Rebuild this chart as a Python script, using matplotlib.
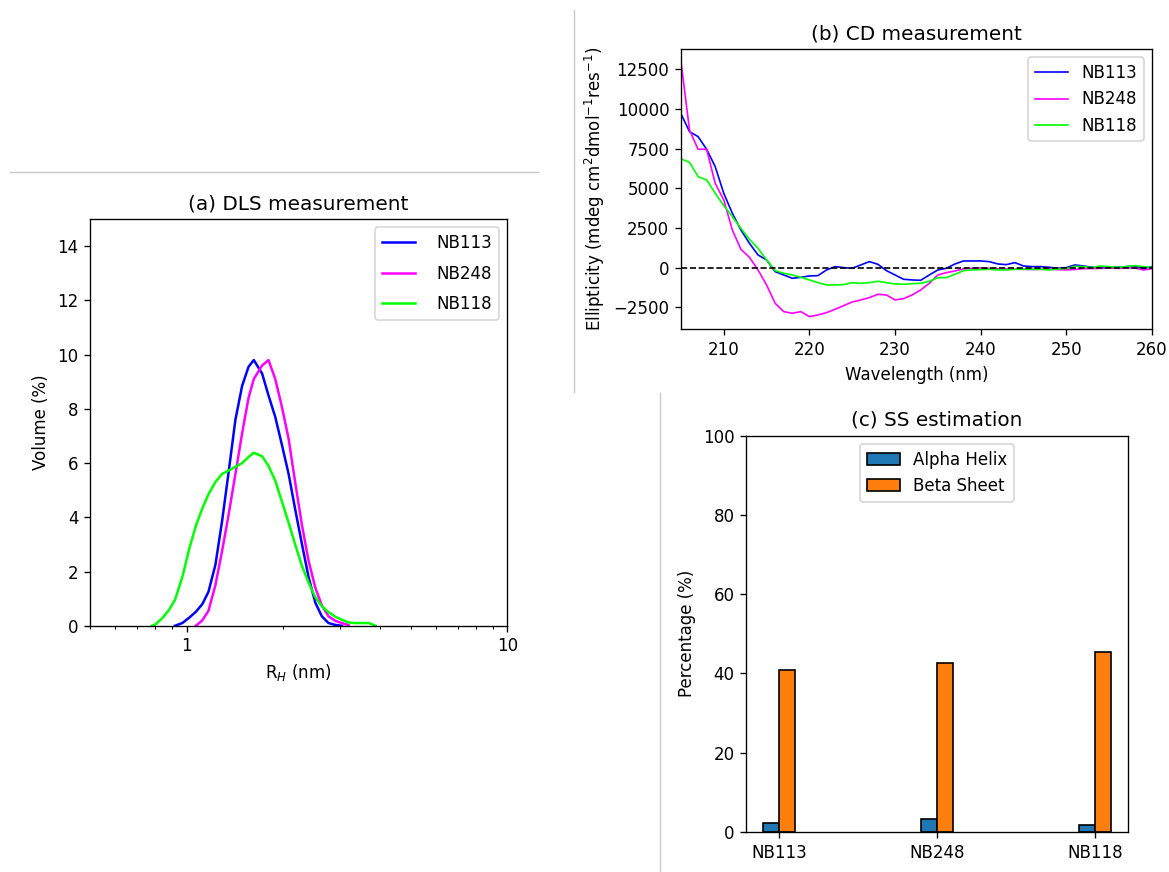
import numpy as np
import matplotlib
matplotlib.use("Agg")
import matplotlib.pyplot as plt
from matplotlib.lines import Line2D
from matplotlib.ticker import FormatStrFormatter, NullFormatter

nan = np.nan

# DLS data: hydrodynamic radius (nm) vs volume (%)
rh = [0.78, 0.80, 0.84, 0.88, 0.92, 0.97, 1.02, 1.07, 1.12, 1.17, 1.23, 1.29,
      1.35, 1.42, 1.49, 1.56, 1.62, 1.72, 1.80, 1.89, 1.98, 2.08, 2.18, 2.29,
      2.40, 2.52, 2.64, 2.77, 2.91, 3.05, 3.20, 3.36, 3.52, 3.70, 3.88]
dls_nb113 = [nan, nan, nan, nan, 0.0, 0.1, 0.3, 0.52, 0.8, 1.25, 2.25, 3.85,
             5.6, 7.6, 8.85, 9.55, 9.8, 9.3, 8.5, 7.7, 6.7, 5.6, 4.3, 3.0,
             1.8, 0.85, 0.35, 0.1, 0.03, 0.0, nan, nan, nan, nan, nan]
dls_nb248 = [nan, nan, nan, nan, nan, nan, nan, 0.0, 0.2, 0.55, 1.5, 2.75,
             4.05, 5.6, 7.1, 8.4, 9.1, 9.6, 9.8, 9.1, 8.1, 6.9, 5.3, 3.7,
             2.4, 1.4, 0.75, 0.35, 0.18, 0.1, 0.02, nan, nan, nan, nan]
dls_nb118 = [0.0, 0.05, 0.28, 0.57, 0.95, 1.8, 2.85, 3.7, 4.33, 4.85, 5.3, 5.6,
             5.72, 5.86, 6.0, 6.22, 6.38, 6.25, 5.9, 5.35, 4.6, 3.8, 3.0, 2.2,
             1.6, 1.05, 0.72, 0.5, 0.33, 0.22, 0.12, 0.1, 0.1, 0.1, 0.0]

# CD data: wavelength (nm) vs ellipticity
wavelength = list(range(205, 261))
cd_nb113 = [9700, 8576, 8261, 7463, 6371, 4691, 3431, 2381, 1541, 806,
            491, -244, -454, -664, -601, -517, -496, -139, 71, 8,
            -34, 176, 386, 218, -181, -454, -727, -769, -790, -454,
            -139, -34, 239, 428, 428, 428, 386, 239, 197, 323,
            113, 71, 71, 29, -34, 8, 176, 113, 29, 8,
            29, 29, 71, 113, -34, 71]
cd_nb248 = [13000, 8681, 7463, 7463, 5321, 4271, 2381, 1163, 659, -139,
            -1084, -2239, -2764, -2869, -2764, -3079, -2974, -2827, -2617, -2386,
            -2155, -2029, -1882, -1672, -1714, -2029, -1945, -1714, -1399, -979,
            -454, -307, -202, -76, -34, -13, -40, -60, -80, -90,
            -100, -110, -100, -90, -120, -130, -110, -60, -50, -40,
            -20, -40, -30, -10, -140, -60]
cd_nb118 = [6854, 6644, 5741, 5531, 4691, 3914, 3221, 2486, 1793, 1226,
            491, -181, -349, -454, -601, -769, -937, -1084, -1084, -1063,
            -937, -979, -937, -853, -937, -1021, -1042, -1000, -979, -853,
            -622, -622, -412, -181, -139, -118, -97, -139, -139, -97,
            -97, -97, -97, -139, -76, -55, 92, 71, 8, 113,
            71, 29, 71, 134, 71, 29]

# secondary structure estimation
samples = ["NB113", "NB248", "NB118"]
alpha_helix = [2.2, 3.3, 1.8]
beta_sheet = [40.9, 42.7, 45.3]

W, H, dpi = 1169, 872, 120
fig = plt.figure(figsize=(W / dpi, H / dpi), dpi=dpi)

# (a) DLS
ax1 = fig.add_axes([0.0770, 0.2824, 0.3570, 0.4664])
ax1.plot(rh, dls_nb113, color="blue", lw=1.5, label="NB113")
ax1.plot(rh, dls_nb248, color="magenta", lw=1.5, label="NB248")
ax1.plot(rh, dls_nb118, color="lime", lw=1.5, label="NB118")
ax1.set_xscale("log")
ax1.set_xlim(0.5, 10)
ax1.set_ylim(0, 15)
ax1.set_yticks(range(0, 15, 2))
ax1.xaxis.set_major_formatter(FormatStrFormatter("%g"))
ax1.xaxis.set_minor_formatter(NullFormatter())
ax1.set_xlabel("R$_H$ (nm)")
ax1.set_ylabel("Volume (%)")
ax1.set_title("(a) DLS measurement")
ax1.legend(loc="upper right", labelspacing=0.75, handletextpad=1.3)

# (b) CD
ax2 = fig.add_axes([0.5825, 0.6224, 0.4029, 0.3214])
ax2.plot(wavelength, cd_nb113, color="blue", lw=1, label="NB113")
ax2.plot(wavelength, cd_nb248, color="magenta", lw=1, label="NB248")
ax2.plot(wavelength, cd_nb118, color="lime", lw=1, label="NB118")
ax2.axhline(0, color="black", ls="--", lw=1)
ax2.set_xlim(205, 260)
ax2.set_ylim(-3875, 13780)
ax2.set_xlabel("Wavelength (nm)")
ax2.set_ylabel("Ellipticity (mdeg cm$^2$dmol$^{-1}$res$^{-1}$)")
ax2.set_title("(b) CD measurement")
ax2.legend(loc="upper right")

# (c) SS estimation
ax3 = fig.add_axes([0.6382, 0.0459, 0.3270, 0.4545])
x = np.arange(len(samples))
w = 0.1
ax3.bar(x - w / 2, alpha_helix, w, edgecolor="black", label="Alpha Helix")
ax3.bar(x + w / 2, beta_sheet, w, edgecolor="black", label="Beta Sheet")
ax3.set_xticks(x)
ax3.set_xticklabels(samples)
ax3.set_ylim(0, 100)
ax3.set_ylabel("Percentage (%)")
ax3.set_title("(c) SS estimation")
ax3.legend(loc="upper center")

# separator lines
sep = "#c8c8c8"
fig.add_artist(Line2D([10 / W, 538 / W], [1 - 172 / H, 1 - 172 / H], color=sep, lw=0.8))
fig.add_artist(Line2D([574 / W, 574 / W], [1 - 10 / H, 1 - 392 / H], color=sep, lw=0.8))
fig.add_artist(Line2D([660 / W, 660 / W], [1 - 393 / H, 0], color=sep, lw=0.8))

fig.savefig("out.png", dpi=dpi)
